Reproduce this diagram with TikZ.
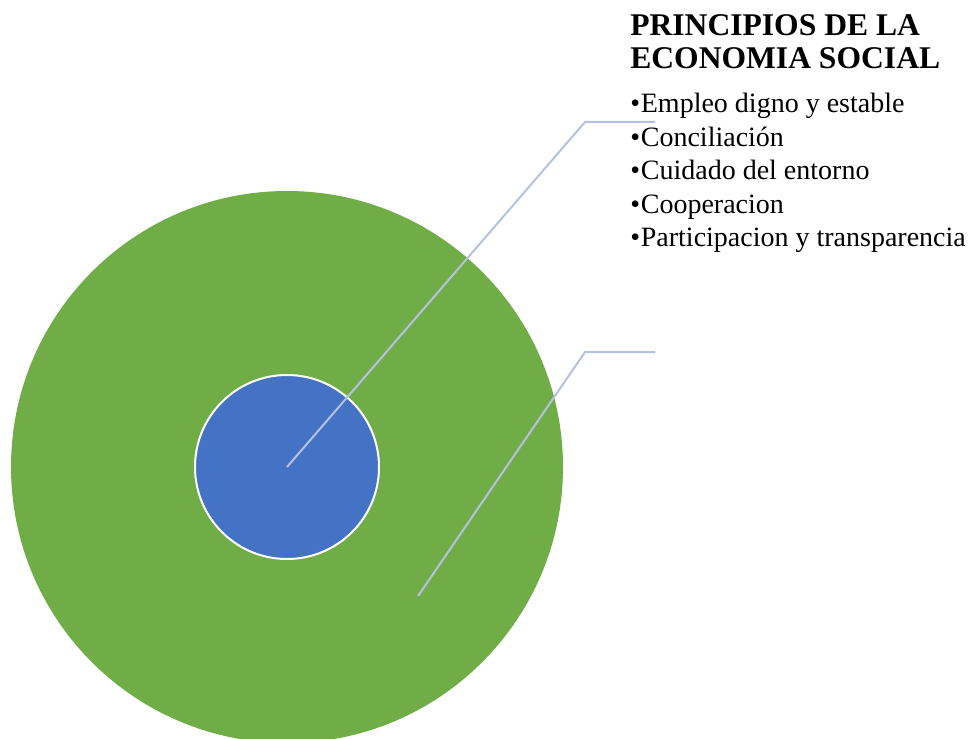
\documentclass[tikz,border=0pt]{standalone}
\usepackage{fontspec}
\setmainfont{Liberation Serif}
\usepackage{tikz}
\usetikzlibrary{calc}
\definecolor{ringgreen}{HTML}{70AD47}
\definecolor{coreblue}{HTML}{4472C4}
\definecolor{leaderline}{HTML}{B4C2E1}
\newcommand{\itembullet}{•\kern0.6pt}
\tikzset{
  ring/.style={circle, fill=ringgreen, inner sep=0pt, minimum size=414pt},
  core/.style={circle, fill=coreblue, draw=white, line width=1.5pt, inner sep=0pt, minimum size=138pt},
  leader/.style={draw=leaderline, line width=1.5pt},
  titletext/.style={anchor=north west, inner sep=0pt, align=left, font=\fontsize{23.7}{24.8}\selectfont\bfseries},
  listtext/.style={anchor=north west, inner sep=0pt, align=left, font=\fontsize{21}{25.1}\selectfont}
}
\begin{document}
\begin{tikzpicture}[x=0.75pt,y=-0.75pt]
\useasboundingbox (0,0) rectangle (973,738);
\clip (0,0) rectangle (973,738);
\node[ring] (outer) at (287,467) {};
\node[core] (inner) at (287,467) {};
\coordinate (knee1) at (585,122);
\coordinate (end1) at (655,122);
\coordinate (start2) at (418,596);
\coordinate (knee2) at (585,352);
\coordinate (end2) at (655,352);
\draw[leader] (inner.center) -- (knee1) -- (end1);
\draw[leader] (start2) -- (knee2) -- (end2);
\node[titletext] (title) at (630,14) {PRINCIPIOS DE LA\\ECONOMIA SOCIAL};
\node[listtext] (items) at (630,93) {%
\itembullet Empleo digno y estable\\
\itembullet Conciliación\\
\itembullet Cuidado del entorno\\
\itembullet Cooperacion\\
\itembullet Participacion y transparencia};
\end{tikzpicture}
\end{document}
